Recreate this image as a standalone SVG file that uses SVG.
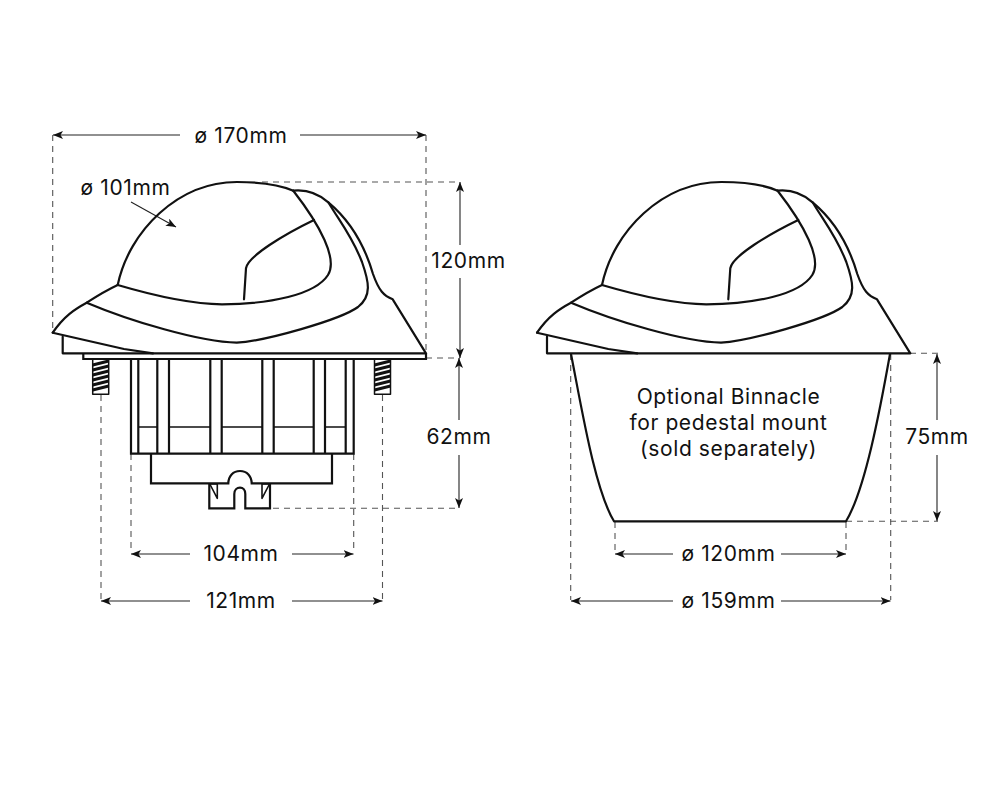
<svg xmlns="http://www.w3.org/2000/svg" xmlns:xlink="http://www.w3.org/1999/xlink" width="1000" height="800" viewBox="0 0 1000 800">
<style>
.o{fill:none;stroke:#111;stroke-width:2.200;stroke-linejoin:round;stroke-linecap:round}
.t{fill:none;stroke:#111;stroke-width:2.200}
.d{fill:none;stroke:#555;stroke-width:1.100;stroke-dasharray:6 5}
.a{fill:none;stroke:#222;stroke-width:1.100;marker-end:url(#h)}
text{font-family:"Inter","Liberation Sans",Arial,sans-serif;font-size:21px;letter-spacing:.6px;fill:#111;text-anchor:middle}
</style>
<defs>
<marker id="h" markerWidth="11" markerHeight="9" refX="10" refY="4" orient="auto" markerUnits="userSpaceOnUse"><path d="M0 0L10 4L0 8L2.500 4Z" fill="#111"/></marker>
<g id="compass">
<path class="o" d="M117.700 285C129 231 178 182 237 182C259 182 278 184 293.300 190.700"/>
<path class="o" d="M293.300 190.700C310 189 321 196 328.300 202.300C352 222 366 250 373 274C379 291 384 296 392.700 299.300L426 353.300H62.700V336.700"/>
<path class="o" d="M52.700 332.700C64 316 75 309 86.700 302.700C97 296 107 290 117.700 285"/>
<path class="o" d="M52.700 332.700L124 349L153 353.300"/>
<path class="o" d="M117.700 285C155 296 190 304 222 304.300C270 304 315 295 328 275C338 259 320 225 293.300 190.700"/>
<path class="o" d="M86.700 302.700C130 321 200 342 236.700 342.700C265 341 340 320 358 307C372 296 369 282 362 262C352 236 340 222 328.300 202.300"/>
<path class="o" d="M244 299.300L246 268.300C248 256 285 234 314 220"/>
</g>
<g id="screw">
<path class="o" d="M0 0V35.300H16V0" style="stroke-width:1.500"/>
<path fill="none" stroke="#111" stroke-width="3" d="M0 6L16 2M0 11L16 7M0 16L16 12M0 21L16 17M0 26L16 22M0 31L16 27"/>
</g>
</defs>
<g id="dimensions">
<path class="d" d="M52.700 135V332M426 135V358M262 182H460M426 358H460M262 508.300H460M101 395V600M131 454V553M353.700 454V553M382.500 395V600"/>
<path class="d" d="M910 353.300H938M846 521.300H938M570.700 354V600M890.700 354V600M615 522V553M846 522V553"/>
<path class="a" d="M180 135H53"/><path class="a" d="M300 135H426"/>
<path class="a" d="M460 245V182"/><path class="a" d="M460 278V358"/>
<path class="a" d="M459 420V358"/><path class="a" d="M459 455V508"/>
<path class="a" d="M190 554H131"/><path class="a" d="M292 554H353.500"/>
<path class="a" d="M190 601H101"/><path class="a" d="M292 601H382.500"/>
<path class="a" d="M131 202L176 227"/>
<path class="a" d="M937 420V354"/><path class="a" d="M937 455V521"/>
<path class="a" d="M673 554H615"/><path class="a" d="M781 554H846"/>
<path class="a" d="M673 601H571"/><path class="a" d="M781 601H890.500"/>
</g>
<g id="compass-left">
<use xlink:href="#compass" href="#compass"/>
<path class="t" d="M83.300 353.300V359H426V353.300"/>
</g>
<g id="screws">
<use href="#screw" xlink:href="#screw" x="92.700" y="359"/>
<use href="#screw" xlink:href="#screw" x="374.500" y="359"/>
</g>
<g id="housing">
<path class="t" d="M131 359V453.700H353.700V359M138.300 359V453.700M157.300 359V453.700M169 359V453.700M210.300 359V453.700M221.700 359V453.700M262.300 359V453.700M273.700 359V453.700M313.700 359V453.700M325 359V453.700M345.700 359V453.700"/>
<path class="t" style="stroke-width:1.500" d="M138.300 427H157.300M169 427H210.300M221.700 427H262.300M273.700 427H313.700M325 427H345.700"/>
<path class="t" d="M151 453.700V483.300H228.300C228.500 476 233 471 240 471C247 471 251.500 476 251.700 483.300H332V453.700"/>
<path class="t" d="M209.300 483.300V508.300H234.300V494C234.300 490 237 487.700 240 487.700C243 487.700 245.300 490 245.300 494V508.300H270V483.300"/>
<path class="o" style="stroke-width:1.600" d="M209.800 484L217.300 498.300V484ZM269.500 484L262 498.300V484Z"/>
</g>
<g id="compass-right">
<use href="#compass" xlink:href="#compass" x="484.300"/>
</g>
<g id="binnacle">
<path class="o" d="M571 354C582 410 595 490 614 521.300H846C865 490 880 410 890 354"/>
<text x="728.500" y="404">Optional Binnacle</text>
<text x="728.500" y="430">for pedestal mount</text>
<text x="728.500" y="456">(sold separately)</text>
</g>
<g id="labels">
<text x="241" y="143">ø 170mm</text>
<text x="125.500" y="195">ø 101mm</text>
<text x="468.500" y="268">120mm</text>
<text x="459" y="444">62mm</text>
<text x="241" y="561">104mm</text>
<text x="241" y="608">121mm</text>
<text x="937" y="444">75mm</text>
<text x="728.500" y="561">ø 120mm</text>
<text x="728.500" y="608">ø 159mm</text>
</g>
</svg>
